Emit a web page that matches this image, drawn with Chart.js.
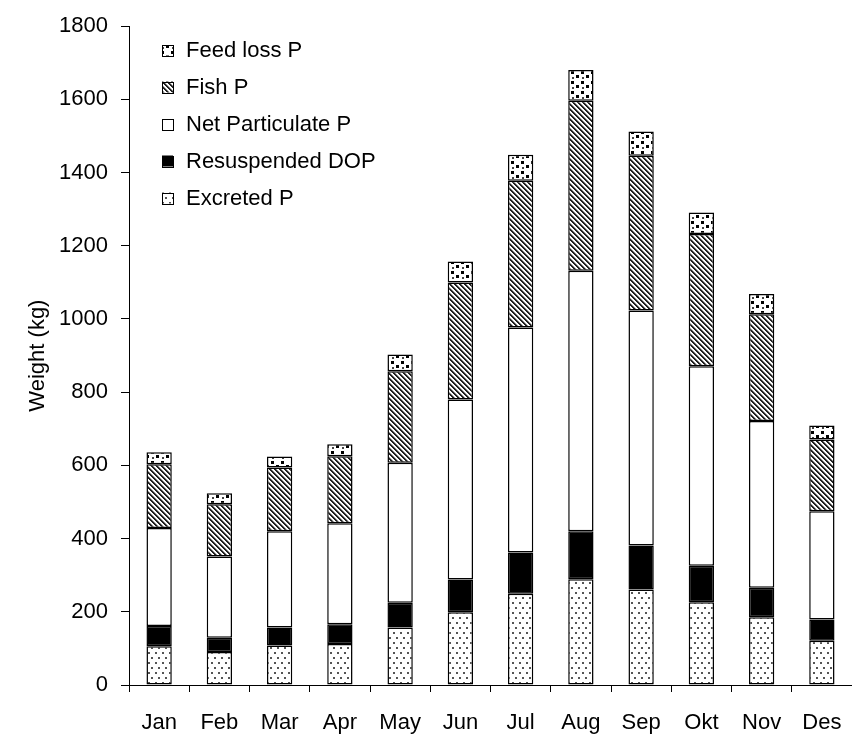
<!DOCTYPE html>
<html>
<head>
<meta charset="utf-8">
<script src="https://cdn.jsdelivr.net/npm/chart.js@4/dist/chart.umd.min.js"></script>
<style>
  html, body { margin: 0; padding: 0; background: #fff; }
</style>
</head>
<body>
<canvas id="chart" width="852" height="742"></canvas>
<script>
const months = ["Jan", "Feb", "Mar", "Apr", "May", "Jun", "Jul", "Aug", "Sep", "Okt", "Nov", "Des"];
const excretedP = [106, 90, 108, 112, 157, 199, 249, 289, 261, 226, 185, 121];
const resuspendedDOP = [55, 39, 49, 54, 68, 89, 113, 131, 120, 100, 81, 58];
const netParticulateP = [268, 222, 263, 276, 382, 492, 615, 712, 642, 545, 455, 296];
const fishP = [174, 143, 174, 183, 250, 320, 401, 464, 423, 361, 292, 196];
const feedLossP = [33, 30, 30, 33, 46, 57, 71, 84, 66, 59, 55, 38];
const yTicks = [0, 200, 400, 600, 800, 1000, 1200, 1400, 1600, 1800];

const FONT = "'Liberation Sans', Arial, sans-serif";
const FONT_SIZE = 22;
Chart.defaults.font.family = FONT;
Chart.defaults.font.size = FONT_SIZE;
Chart.defaults.color = "#000";

function tile(w, h, draw) {
  const c = document.createElement("canvas");
  c.width = w;
  c.height = h;
  const g = c.getContext("2d");
  g.fillStyle = "#fff";
  g.fillRect(0, 0, w, h);
  draw(g);
  return g.createPattern(c, "repeat");
}

// small sparse dots
const dotPattern = tile(7, 10, (g) => {
  g.fillStyle = "#555";
  g.fillRect(1, 2, 2, 2);
  g.fillRect(4, 7, 2, 2);
});

// diagonal hatch, top-left to bottom-right
const hatchPattern = tile(5, 5, (g) => {
  for (let i = 0; i < 5; i++) {
    g.fillStyle = "#222";
    g.fillRect(i, i, 1, 1);
    g.fillRect((i + 1) % 5, i, 1, 1);
    g.fillStyle = "#999";
    g.fillRect((i + 2) % 5, i, 1, 1);
  }
});

// coarse black speckles
const speckPattern = tile(10, 10, (g) => {
  g.fillStyle = "#000";
  g.fillRect(1, 1, 3, 3);
  g.fillRect(6, 5, 3, 3);
  g.fillStyle = "#444";
  g.fillRect(2, 7, 2, 2);
});

const legendPlugin = {
  id: "legendPlugin",
  afterDatasetsDraw(chart) {
    const { ctx } = chart;
    const sets = chart.data.datasets.slice().reverse();
    const boxX = 162;
    const textX = 186;
    const firstY = 50;
    const rowGap = 37;
    const box = 11;

    ctx.save();
    ctx.font = `${FONT_SIZE}px ${FONT}`;
    ctx.textAlign = "left";
    ctx.textBaseline = "middle";
    sets.forEach((ds, i) => {
      const y = firstY + i * rowGap;
      ctx.fillStyle = ds.backgroundColor;
      ctx.fillRect(boxX, y - box / 2, box, box);
      ctx.strokeStyle = "#000";
      ctx.lineWidth = 1;
      ctx.strokeRect(boxX + 0.5, Math.round(y - box / 2) + 0.5, box, box);
      ctx.fillStyle = "#000";
      ctx.fillText(ds.label, textX, y + 1);
    });
    ctx.restore();
  },
};

const barStyle = {
  borderColor: "#000",
  borderWidth: 1.5,
  borderSkipped: false,
  barPercentage: 0.42,
  categoryPercentage: 1,
};

new Chart(document.getElementById("chart"), {
  type: "bar",
  data: {
    labels: months,
    datasets: [
      { label: "Excreted P", data: excretedP, backgroundColor: dotPattern, ...barStyle },
      { label: "Resuspended DOP", data: resuspendedDOP, backgroundColor: "#000", ...barStyle },
      { label: "Net Particulate P", data: netParticulateP, backgroundColor: "#fff", ...barStyle },
      { label: "Fish P", data: fishP, backgroundColor: hatchPattern, ...barStyle },
      { label: "Feed loss P", data: feedLossP, backgroundColor: speckPattern, ...barStyle },
    ],
  },
  plugins: [legendPlugin],
  options: {
    responsive: false,
    animation: false,
    devicePixelRatio: 1,
    events: [],
    layout: { padding: { top: 22, right: 0, bottom: 0, left: 0 } },
    plugins: {
      legend: { display: false },
      tooltip: { enabled: false },
    },
    scales: {
      x: {
        stacked: true,
        grid: { drawOnChartArea: false, drawTicks: true, tickLength: 7, color: "#000", offset: true },
        border: { display: true, color: "#000", width: 1 },
        ticks: { color: "#000", padding: 18, maxRotation: 0, autoSkip: false },
        afterFit(scale) {
          scale.height = 57;
          scale.paddingLeft = 0;
          scale.paddingRight = 0;
        },
      },
      y: {
        stacked: true,
        min: 0,
        max: 1800,
        afterBuildTicks(scale) { scale.ticks = yTicks.map((v) => ({ value: v })); },
        grid: { drawOnChartArea: false, drawTicks: true, tickLength: 8, color: "#000" },
        border: { display: true, color: "#000", width: 1 },
        ticks: { color: "#000", padding: 13, callback: (v) => String(v) },
        title: { display: true, text: "Weight (kg)", color: "#000", padding: { top: 25, bottom: 0 } },
        afterFit(scale) { scale.width = 129; },
      },
    },
  },
});
</script>
</body>
</html>
